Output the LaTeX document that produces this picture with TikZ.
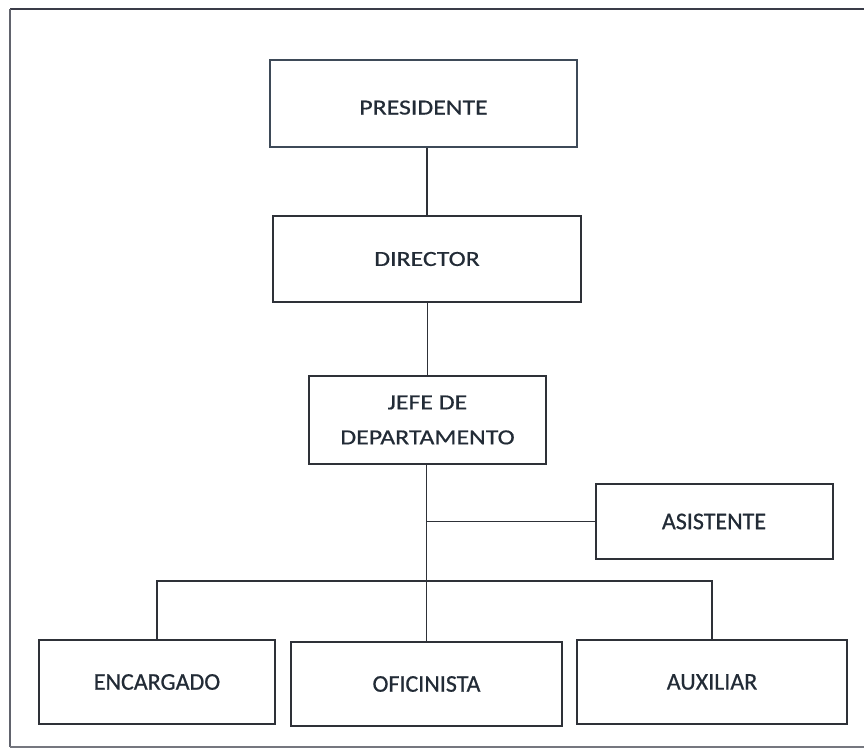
\documentclass[tikz,border=0pt]{standalone}
\usepackage{fontspec}
\setmainfont{Carlito}
\newfontfamily\topfnt[FakeStretch=1.2,FakeBold=0.6]{Carlito}
\newfontfamily\botfnt[FakeBold=0.6]{Carlito}
\definecolor{inkline}{HTML}{2E3138}
\definecolor{inktext}{HTML}{222B36}
\definecolor{presline}{HTML}{3E4A58}
\definecolor{frameline}{HTML}{3A3C48}
\tikzset{
  box/.style={draw=inkline, line width=2pt, fill=white, inner sep=0pt,
    text=inktext, align=center},
  topbox/.style={box, font=\topfnt\fontsize{21.5}{35}\selectfont},
  botbox/.style={box, font=\botfnt\fontsize{24}{30}\selectfont},
  link/.style={draw=inkline, line width=1.5pt},
}
\begin{document}
\begin{tikzpicture}[x=1pt, y=-1pt]
\useasboundingbox (0,0) rectangle (864,749);
\fill[white] (0,0) rectangle (864,749);
% outer frame
\draw[frameline, line width=2.4pt] (864,9) -- (10,9);
\draw[frameline!80, line width=1.6pt] (10,9) -- (10,747);
\draw[frameline!70, line width=1.6pt] (10,747) -- (864,747);

\node[topbox, draw=presline, line width=2.8pt, minimum width=307pt, minimum height=87pt,
      text height=22pt, text depth=0pt] (pres) at (423.5,103.5) {PRESIDENTE};
\node[topbox, minimum width=308pt, minimum height=86pt] (dir) at (427,259) {DIRECTOR};
\node[topbox, minimum width=237pt, minimum height=88pt] (jefe) at (427.5,420) {JEFE DE\\DEPARTAMENTO};
\node[botbox, minimum width=237pt, minimum height=75pt] (asis) at (714,521.5) {ASISTENTE};
\node[botbox, minimum width=236pt, minimum height=84pt] (enc) at (157,682) {ENCARGADO};
\node[botbox, minimum width=271pt, minimum height=84pt] (ofi) at (426.5,684) {OFICINISTA};
\node[botbox, minimum width=270pt, minimum height=84pt] (aux) at (712,682) {AUXILIAR};

\coordinate (bus) at (426.5,581);

\draw[link] (dir.north |- pres.south) -- (dir.north);
\draw[link] (jefe.north |- dir.south) -- (jefe.north);
\draw[link] (ofi.north |- jefe.south) -- (ofi.north);
\draw[link] (ofi.north |- asis.west) -- (asis.west);
\draw[link] (enc.north) |- (bus) -| (aux.north);
\end{tikzpicture}
\end{document}
